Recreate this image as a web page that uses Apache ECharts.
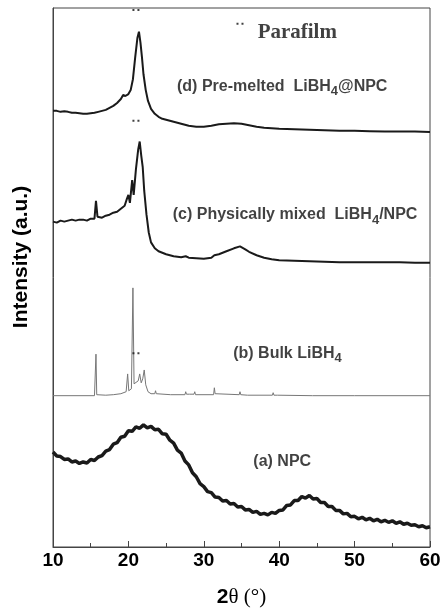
<!DOCTYPE html>
<html>
<head>
<meta charset="utf-8">
<script src="https://cdn.jsdelivr.net/npm/echarts@6/dist/echarts.min.js"></script>
<style>html,body{margin:0;padding:0;background:#fff}#c{width:445px;height:613px}</style>
</head>
<body>
<div id="c"></div>
<script>
// 2theta (deg) and intensity (a.u.) pairs
const traceA_NPC = [
 [10,96],[10.5,92],[11,91.5],[11.5,88.5],[12,89],[12.5,86],[13,87],[13.5,84.5],[14,86],[14.5,85],[15,88.5],
 [15.5,87.5],[16,91],[16.5,92.5],[17,97],[17.5,98.5],[18,104],[18.5,105.5],[19,111],[19.5,112],[20,117.5],
 [20.5,117],[21,121.5],[21.5,120],[22,123.5],[22.5,120.5],[23,122],[23.5,118.5],[24,119],[24.5,114.5],
 [25,114],[25.5,108],[26,105],[26.5,98],[27,95],[27.5,87],[28,83],[28.5,75],[29,71],[29.5,64],[30,61],
 [30.5,56],[31,55],[31.5,50.5],[32,50],[32.5,46.5],[33,47],[33.5,43.5],[34,44],[34.5,40.5],[35,41],[35.5,37.5],
 [36,38],[36.5,35],[37,36],[37.5,33],[38,34],[38.5,32.5],[39,35],[39.5,34],[40,37],[40.5,37.5],[41,42],
 [41.5,42.5],[42,47],[42.5,47],[43,51],[43.5,49.5],[44,52],[44.5,48.5],[45,49],[45.5,45],[46,45],[46.5,41],
 [47,41],[47.5,37],[48,37],[48.5,33.5],[49,34],[49.5,30.5],[50,31],[50.5,28.5],[51,30],[51.5,27.5],[52,29],
 [52.5,26.5],[53,28],[53.5,25.5],[54,27],[54.5,25],[55,26.5],[55.5,24],[56,25.5],[56.5,23],[57,24],[57.5,22],
 [58,22.5],[58.5,20.5],[59,21.5],[59.5,19.5],[60,20.5]
];
const traceB_Bulk = [
 [10,153],[15.5,153],[15.6,154],[15.7,195],[15.8,154],[15.9,153],[17,153.5],[18,154],[19,155],[19.7,157],
 [19.9,175],[20.05,158],[20.4,160],[20.6,262],[20.75,165],[21.0,163],[21.3,168],[21.5,175],[21.7,166],
 [21.9,170],[22.1,179],[22.3,164],[22.6,157],[23,155],[23.5,155],[23.6,158],[23.7,155],[25.6,154],[25.7,156],
 [25.8,154],[27.5,154],[27.6,157],[27.7,154.5],[28.1,154.5],[28.2,156],[28.3,154.5],[28.7,154.5],[28.8,157],
 [28.9,154],[31.3,154],[31.4,161],[31.5,155],[31.7,154],[34.7,154],[34.8,157],[34.9,154],[35.8,153.5],
 [35.9,154.5],[36.0,153.5],[39.1,153.5],[39.2,156],[39.3,153.5],[39.8,153.5],[39.9,154.5],[40.0,153.5],
 [44.4,153],[44.5,154.5],[44.6,153],[50,153],[60,153]
];
const traceC_Mixed = [
 [10,329],[10.5,328],[11,330],[11.5,329],[12,330],[12.5,331],[13,330],[13.5,331],[14,331],[14.5,330],[15,332],
 [15.5,332],[15.7,350],[15.9,334],[16.5,333],[17,335],[17.5,336],[18,338],[18.5,339],[19,342],[19.5,345],
 [19.8,352],[20.0,356],[20.2,348],[20.5,371],[20.7,356],[21.0,382],[21.3,402],[21.5,410],[21.7,396],
 [21.9,384],[22.1,360],[22.4,336],[22.7,318],[23,308],[23.5,302],[24,299],[25,296],[26,294],[27,293],
 [27.6,294],[28,292.5],[28.2,293.5],[29,292],[30,291.5],[31,292.5],[31.4,295],[32,296],[33,299],[34,302],
 [34.8,304],[35.5,301],[36,298.5],[37,295],[38,292.5],[39,291],[40,290],[42,289.5],[44,289],[46,288.5],
 [48,288],[50,288],[52,288],[54,288],[56,288],[58,287.5],[60,287.5]
];
const traceD_Premelted = [
 [10,441],[10.5,441],[11,440],[11.5,440.5],[12,440],[12.5,439],[13,439],[13.5,438.5],[14,438],[14.5,438],
 [15,438.5],[15.5,439],[16,440],[16.5,441],[17,442],[17.5,444],[18,446],[18.5,449],[19,453],[19.3,457],
 [19.6,456],[20,458],[20.3,462],[20.6,473],[20.9,495],[21.2,515],[21.4,521],[21.6,510],[21.8,495],[22.0,478],
 [22.3,462],[22.6,451],[23,443],[23.5,438],[24,435],[24.5,433],[25,432],[25.5,431],[26,430],[27,428],
 [28,426],[29,425],[30,425],[31,426],[32,427.5],[33,428],[34,428.5],[35,428],[36,426.5],[37,425],[38,424],
 [39,423.5],[40,423],[42,422.5],[44,422],[46,421.5],[48,421],[50,421],[52,420.5],[54,420],[56,420],
 [58,420],[60,419.5]
];
// Parafilm markers (2theta, intensity) and legend anchor
const parafilmMarks = [[21.0,543],[21.0,431],[21.0,196]];
const parafilmLegendMark = [34.8,529];
// curve labels: [2theta, intensity, text]
const curveLabels = [
 [40.4,466,'{t|(d) Pre-melted  LiBH}{s|4}{t|@NPC}'],
 [42.1,336,'{t|(c) Physically mixed  LiBH}{s|4}{t|/NPC}'],
 [41.1,196,'{t|(b) Bulk LiBH}{s|4}'],
 [40.4,86,'{t|(a) NPC}']
];
const legendText = [42.4,520,'Parafilm'];
const xTicks = [10,20,30,40,50,60];

const chart = echarts.init(document.getElementById('c'));
const dotPath = 'path://M0,0h2v2h-2zM5,0h2v2h-2z';
const rich = {
  t:{fontFamily:'Liberation Sans, Arial, sans-serif',fontWeight:'bold',fontSize:16,color:'#111'},
  s:{fontFamily:'Liberation Sans, Arial, sans-serif',fontWeight:'bold',fontSize:13,color:'#111',padding:[11,0,0,0]}
};
chart.setOption({
  animation:false,
  backgroundColor:'#fff',
  grid:{left:53,right:15,top:8,bottom:60,show:true,borderColor:'#444',borderWidth:1,backgroundColor:'transparent'},
  xAxis:{
    type:'value',min:xTicks[0],max:xTicks[xTicks.length-1],interval:10,
    axisLine:{lineStyle:{color:'#444',width:1}},
    axisTick:{inside:true,length:6,lineStyle:{color:'#444'}},
    minorTick:{show:true,splitNumber:2,length:4,lineStyle:{color:'#444'}},
    splitLine:{show:false},
    axisLabel:{color:'#000',fontFamily:'Liberation Sans, Arial, sans-serif',fontWeight:'bold',fontSize:19,margin:4},
    name:'{a|2}{b|θ (°)}',nameLocation:'middle',nameGap:40,
    nameTextStyle:{rich:{
      a:{fontFamily:'Liberation Sans, Arial, sans-serif',fontWeight:'bold',fontSize:21,color:'#000'},
      b:{fontFamily:'Liberation Serif, Times New Roman, serif',fontSize:21,color:'#000'}}}
  },
  yAxis:{
    type:'value',min:0,max:545,
    axisLine:{show:true,lineStyle:{color:'#444',width:1}},
    axisTick:{show:false},axisLabel:{show:false},splitLine:{show:false}
  },
  graphic:[{type:'text',x:21,y:257,rotation:Math.PI/2,
    style:{text:'Intensity (a.u.)',fontFamily:'Liberation Sans, Arial, sans-serif',fontWeight:'bold',fontSize:21,fill:'#000',align:'center',verticalAlign:'middle'}}],
  series:[
    {type:'line',data:traceA_NPC,symbol:'none',lineStyle:{color:'#1a1a1a',width:3.5},z:3},
    {type:'line',data:traceB_Bulk,symbol:'none',lineStyle:{color:'#777',width:1},z:3},
    {type:'line',data:traceC_Mixed,symbol:'none',lineStyle:{color:'#1a1a1a',width:2},z:3},
    {type:'line',data:traceD_Premelted,symbol:'none',lineStyle:{color:'#1a1a1a',width:2},z:3},
    {type:'scatter',data:parafilmMarks.concat([parafilmLegendMark]),symbol:dotPath,symbolSize:[7,2],
      itemStyle:{color:'#111'},z:4},
    {type:'scatter',symbolSize:1,itemStyle:{color:'rgba(0,0,0,0)'},z:5,
      data:curveLabels.map(d=>({value:[d[0],d[1]],label:{show:true,position:'inside',formatter:d[2],rich:rich}}))
       .concat([{value:[legendText[0],legendText[1]],label:{show:true,position:'inside',formatter:legendText[2],
         fontFamily:'Liberation Serif, Times New Roman, serif',fontWeight:'bold',fontSize:21,color:'#111'}}])}
  ]
});
</script>
</body>
</html>
